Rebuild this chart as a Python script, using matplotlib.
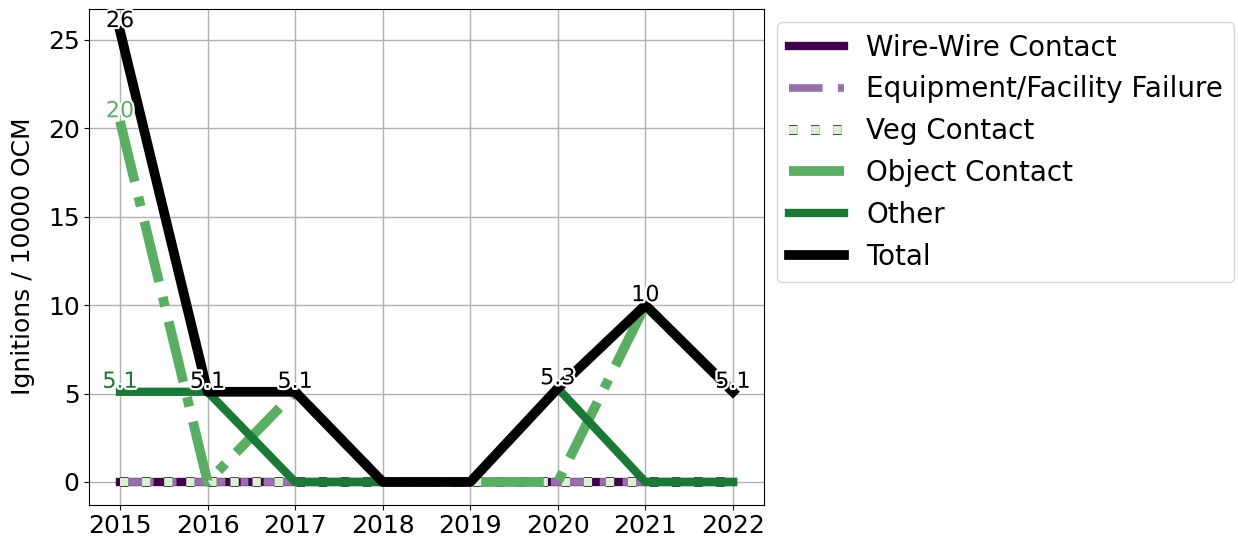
import matplotlib
matplotlib.use('Agg')
import matplotlib.pyplot as plt
import matplotlib.patheffects as pe
import numpy as np

# data
years = [2015, 2016, 2017, 2018, 2019, 2020, 2021, 2022]
wire_wire = [0, 0, 0, 0, 0, 0, 0, 0]
equipment = [0, 0, 0, 0, 0, 0, 0, 0]
veg_contact = [0, 0, 0, 0, 0, 0, 0, 0]
object_contact = [20.4, 0, 5.1, 0, 0, 0, 10.0, 5.1]
other = [5.1, 5.1, 0, 0, 0, 5.3, 0, 0]
total = [25.5, 5.1, 5.1, 0, 0, 5.3, 10.0, 5.1]

series = [
    ("Wire-Wire Contact", wire_wire, '#40004b', '-', 6),
    ("Equipment/Facility Failure", equipment, '#9970ab', (0, (4.4, 2, 1, 2)), 5.5),
    ("Veg Contact", veg_contact, '#d9f0d3', ':', 6),
    ("Object Contact", object_contact, '#5aae61', '-.', 7),
    ("Other", other, '#1b7837', '-', 6),
    ("Total", total, 'black', '-', 7),
]

plt.rcParams['font.family'] = ['DejaVu Sans']
fig = plt.figure(figsize=(12.38, 5.46), dpi=100)
ax = fig.add_axes([0.0722, 0.076, 0.5446, 0.9084])

for name, vals, color, ls, lw in series:
    kw = {}
    if name == "Veg Contact":
        kw['path_effects'] = [pe.Stroke(linewidth=lw + 1.2, foreground='#2a2a2a'), pe.Normal()]
    ax.plot(years, vals, color=color, linestyle=ls, linewidth=lw, label=name, **kw)

# value labels for nonzero points
for name, vals, color, ls, lw in series:
    for x, v in zip(years, vals):
        if v > 0:
            ax.text(x, v, format(v, '.2g'), color=color, fontsize=16,
                    ha='center', va='bottom', zorder=10,
                    path_effects=[pe.withStroke(linewidth=3, foreground='white')])

ax.set_xticks(years)
ax.tick_params(labelsize=18)
ax.set_ylabel("Ignitions / 10000 OCM", fontsize=18)
ax.yaxis.set_label_coords(-0.08, 0.5)
ax.grid(True, color='#b0b0b0', linewidth=1)
ax.set_axisbelow(True)

ax.legend(loc='upper left', bbox_to_anchor=(1.0, 1.0), fontsize=20)

fig.savefig('out.png', dpi=100)
